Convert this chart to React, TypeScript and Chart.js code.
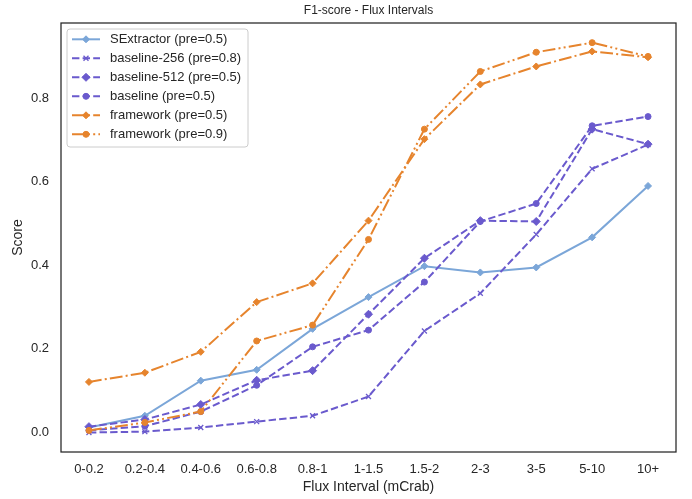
import { useEffect, useRef } from "react";
import { Chart, registerables } from "chart.js";
import { drawPoint } from "chart.js/helpers";

Chart.register(...registerables);

const categories = ["0-0.2", "0.2-0.4", "0.4-0.6", "0.6-0.8", "0.8-1", "1-1.5", "1.5-2", "2-3", "3-5", "5-10", "10+"];
const seriesNames = [
  "SExtractor (pre=0.5)",
  "baseline-256 (pre=0.8)",
  "baseline-512 (pre=0.5)",
  "baseline (pre=0.5)",
  "framework (pre=0.5)",
  "framework (pre=0.9)",
];
const sextractor = [0.012, 0.04, 0.124, 0.15, 0.248, 0.324, 0.398, 0.383, 0.395, 0.467, 0.59];
const baseline256 = [0.0, 0.002, 0.012, 0.026, 0.04, 0.086, 0.243, 0.333, 0.474, 0.631, 0.689];
const baseline512 = [0.014, 0.031, 0.067, 0.125, 0.148, 0.283, 0.417, 0.507, 0.505, 0.726, 0.69];
const baseline = [0.005, 0.015, 0.05, 0.113, 0.205, 0.245, 0.36, 0.505, 0.548, 0.734, 0.756];
const framework05 = [0.121, 0.143, 0.193, 0.312, 0.357, 0.507, 0.702, 0.833, 0.876, 0.912, 0.898];
const framework09 = [0.005, 0.024, 0.05, 0.219, 0.257, 0.462, 0.726, 0.864, 0.91, 0.933, 0.9];
const yTicks = [0, 0.2, 0.4, 0.6, 0.8];
const chartTitle = "F1-score - Flux Intervals";

const BLUE = "#7ba6d8";
const PURPLE = "#6a5acd";
const ORANGE = "#e6842d";
const TEXT = "#262626";
const FONT = "'Liberation Sans', Arial, sans-serif";

export default function App() {
  const ref = useRef<HTMLCanvasElement>(null);

  useEffect(() => {
    const canvas = ref.current!;
    const values = [sextractor, baseline256, baseline512, baseline, framework05, framework09];
    const colors = [BLUE, PURPLE, PURPLE, PURPLE, ORANGE, ORANGE];
    const dashes = [
      [],
      [7.4, 3.2],
      [7.4, 3.2],
      [7.4, 3.2],
      [12.8, 3.2, 2, 3.2],
      [12.8, 3.2, 2, 3.2, 2, 3.2],
    ];
    const styles = ["rectRot", "crossRot", "rectRot", "circle", "rectRot", "circle"];
    const radii = [3.5, 3.5, 4, 3, 3.5, 3];

    const datasets = values.map((d, i) => ({
      label: seriesNames[i],
      data: d,
      borderColor: colors[i],
      backgroundColor: colors[i],
      borderWidth: 2,
      borderDash: dashes[i],
      pointStyle: styles[i],
      pointRadius: radii[i],
      pointBorderWidth: styles[i] === "crossRot" ? 1.3 : 1,
      pointBackgroundColor: colors[i],
      pointBorderColor: colors[i],
      tension: 0,
      fill: false,
      order: 6 - i,
    }));

    const framePlugin = {
      id: "frameLegend",
      afterDraw(chart: any) {
        const { ctx, chartArea: a } = chart;
        ctx.save();
        ctx.strokeStyle = TEXT;
        ctx.lineWidth = 1.25;
        ctx.setLineDash([]);
        ctx.strokeRect(a.left, a.top, a.right - a.left, a.bottom - a.top);

        // title centred over the plot area
        ctx.fillStyle = TEXT;
        ctx.font = `12px ${FONT}`;
        ctx.textAlign = "center";
        ctx.textBaseline = "middle";
        ctx.fillText(chartTitle, (a.left + a.right) / 2, 11);

        // legend
        const bx = 67, by = 29, bw = 181, bh = 118, r = 3;
        ctx.beginPath();
        ctx.moveTo(bx + r, by);
        ctx.lineTo(bx + bw - r, by);
        ctx.quadraticCurveTo(bx + bw, by, bx + bw, by + r);
        ctx.lineTo(bx + bw, by + bh - r);
        ctx.quadraticCurveTo(bx + bw, by + bh, bx + bw - r, by + bh);
        ctx.lineTo(bx + r, by + bh);
        ctx.quadraticCurveTo(bx, by + bh, bx, by + bh - r);
        ctx.lineTo(bx, by + r);
        ctx.quadraticCurveTo(bx, by, bx + r, by);
        ctx.closePath();
        ctx.fillStyle = "rgba(255,255,255,0.85)";
        ctx.fill();
        ctx.strokeStyle = "#cccccc";
        ctx.lineWidth = 1;
        ctx.stroke();

        chart.data.datasets.forEach((ds: any, i: number) => {
          const y = 39.3 + 19 * i;
          ctx.strokeStyle = ds.borderColor;
          ctx.fillStyle = ds.borderColor;
          ctx.lineWidth = 2;
          ctx.setLineDash(ds.borderDash);
          ctx.beginPath();
          ctx.moveTo(72, y);
          ctx.lineTo(100, y);
          ctx.stroke();
          ctx.setLineDash([]);
          ctx.lineWidth = ds.pointBorderWidth;
          drawPoint(ctx, { pointStyle: ds.pointStyle, radius: ds.pointRadius, rotation: 0, borderWidth: ds.pointBorderWidth } as any, 86, y);
          ctx.fillStyle = TEXT;
          ctx.font = `13px ${FONT}`;
          ctx.textAlign = "left";
          ctx.textBaseline = "middle";
          ctx.fillText(ds.label, 110, y + 0.5);
        });
        ctx.restore();
      },
    };

    const chart = new Chart(canvas, {
      type: "line",
      data: { labels: categories, datasets: datasets as any },
      options: {
        animation: false,
        responsive: false,
        devicePixelRatio: 1,
        layout: { padding: { left: 0, right: 16, top: 23, bottom: 0 } },
        plugins: {
          legend: { display: false },
          tooltip: { enabled: false },
          title: { display: false },
        },
        scales: {
          x: {
            type: "category",
            offset: true,
            grid: { display: false, drawTicks: false },
            border: { display: false },
            ticks: {
              color: TEXT,
              font: { family: FONT, size: 13 },
              padding: 10,
              autoSkip: false,
              maxRotation: 0,
            },
            title: {
              display: true,
              text: "Flux Interval (mCrab)",
              color: TEXT,
              font: { family: FONT, size: 14 },
              padding: { top: 0, bottom: 3 },
            },
            afterFit(scale: any) {
              scale.height = 47;
            },
          },
          y: {
            type: "linear",
            min: -0.0467,
            max: 0.98,
            grid: { display: false, drawTicks: false },
            border: { display: false },
            afterBuildTicks(scale: any) {
              scale.ticks = yTicks.map((v) => ({ value: v }));
            },
            ticks: {
              color: TEXT,
              font: { family: FONT, size: 13 },
              padding: 12,
              callback: (v: any) => Number(v).toFixed(1),
            },
            title: {
              display: true,
              text: "Score",
              color: TEXT,
              font: { family: FONT, size: 14 },
              padding: { top: 10, bottom: 0 },
            },
            afterFit(scale: any) {
              scale.width = 61;
            },
          },
        },
      },
      plugins: [framePlugin],
    });
    return () => chart.destroy();
  }, []);

  return (
    <div style={{ position: "fixed", left: 0, top: 0, width: 692, height: 499, background: "#fff" }}>
      <canvas ref={ref} width={692} height={499} style={{ display: "block" }} />
    </div>
  );
}
